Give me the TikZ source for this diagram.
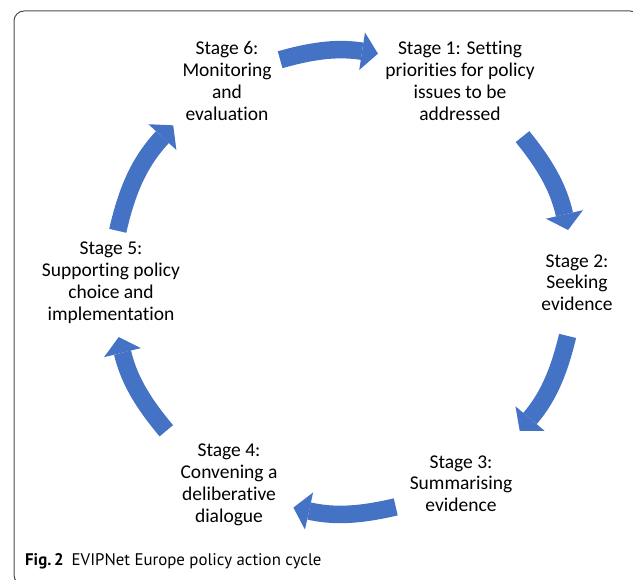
\documentclass[tikz,border=0pt]{standalone}
\usepackage{fontspec}
\setmainfont{Carlito}[Ligatures=NoCommon]
\newfontfamily\capfont{PT Sans}
\usetikzlibrary{arrows.meta}
\definecolor{arrblue}{HTML}{4472C4}
\begin{document}
\begin{tikzpicture}[x=1pt,y=1pt,
  stage/.style={align=center, inner sep=0pt, text=black, font=\fontsize{19.5}{21.8}\selectfont},
  flow/.style={color=arrblue, line width=17.5pt, -{Triangle[width=38pt,length=16pt,line width=0pt]}},
  frame/.style={draw=black!70, line width=1pt, rounded corners=10pt}]
\useasboundingbox (0,0) rectangle (633,580);
\begin{scope}
  \clip (0,0) rectangle (633,580);
  \draw[frame] (14,569) rectangle (640,-5);
\end{scope}
\coordinate (c) at (343,298);
% stage labels
\node[stage] (s6) at (227,499) {Stage 6:\\Monitoring\\and\\evaluation};
\node[stage] (s1) at (460,499) {Stage 1: Setting\\priorities for policy\\issues to be\\addressed};
\node[stage] (s2) at (577,297.3) {Stage 2:\\Seeking\\evidence};
\node[stage] (s3) at (461,96.3) {Stage 3:\\Summarising\\evidence};
\node[stage] (s4) at (229,95.3) {Stage 4:\\Convening a\\deliberative\\dialogue};
\node[stage] (s5) at (111,297.3) {Stage 5:\\Supporting policy\\choice and\\implementation};
% arrow end points on the cycle
\path (c) ++(105.8:231) coordinate (a1);
\path (c) ++(81.3:231) coordinate (a2);
\path (c) ++(39.0:231) coordinate (b1);
\path (c) ++(13.0:231) coordinate (b2);
\path (c) ++(-13.5:231) coordinate (c1);
\path (c) ++(-40.1:231) coordinate (c2);
\path (c) ++(-76.8:231) coordinate (d1);
\path (c) ++(-102.4:231) coordinate (d2);
\path (c) ++(-139.9:231) coordinate (e1);
\path (c) ++(-166.2:231) coordinate (e2);
\path (c) ++(167.2:231) coordinate (f1);
\path (c) ++(137.3:231) coordinate (f2);
\draw[flow] (a1) to[bend left=12.25] (a2);
\draw[flow] (b1) to[bend left=13] (b2);
\draw[flow] (c1) to[bend left=13.3] (c2);
\draw[flow] (d1) to[bend left=12.8] (d2);
\draw[flow] (e1) to[bend left=13.15] (e2);
\draw[flow] (f1) to[bend left=14.95] (f2);
% caption
\node[anchor=base west, inner sep=0pt, font=\capfont\fontsize{16.8}{20}\selectfont] (cap) at (25,14)
  {\textbf{Fig.\,2}\hspace{8pt}EVIPNet Europe policy action cycle};
\end{tikzpicture}
\end{document}
